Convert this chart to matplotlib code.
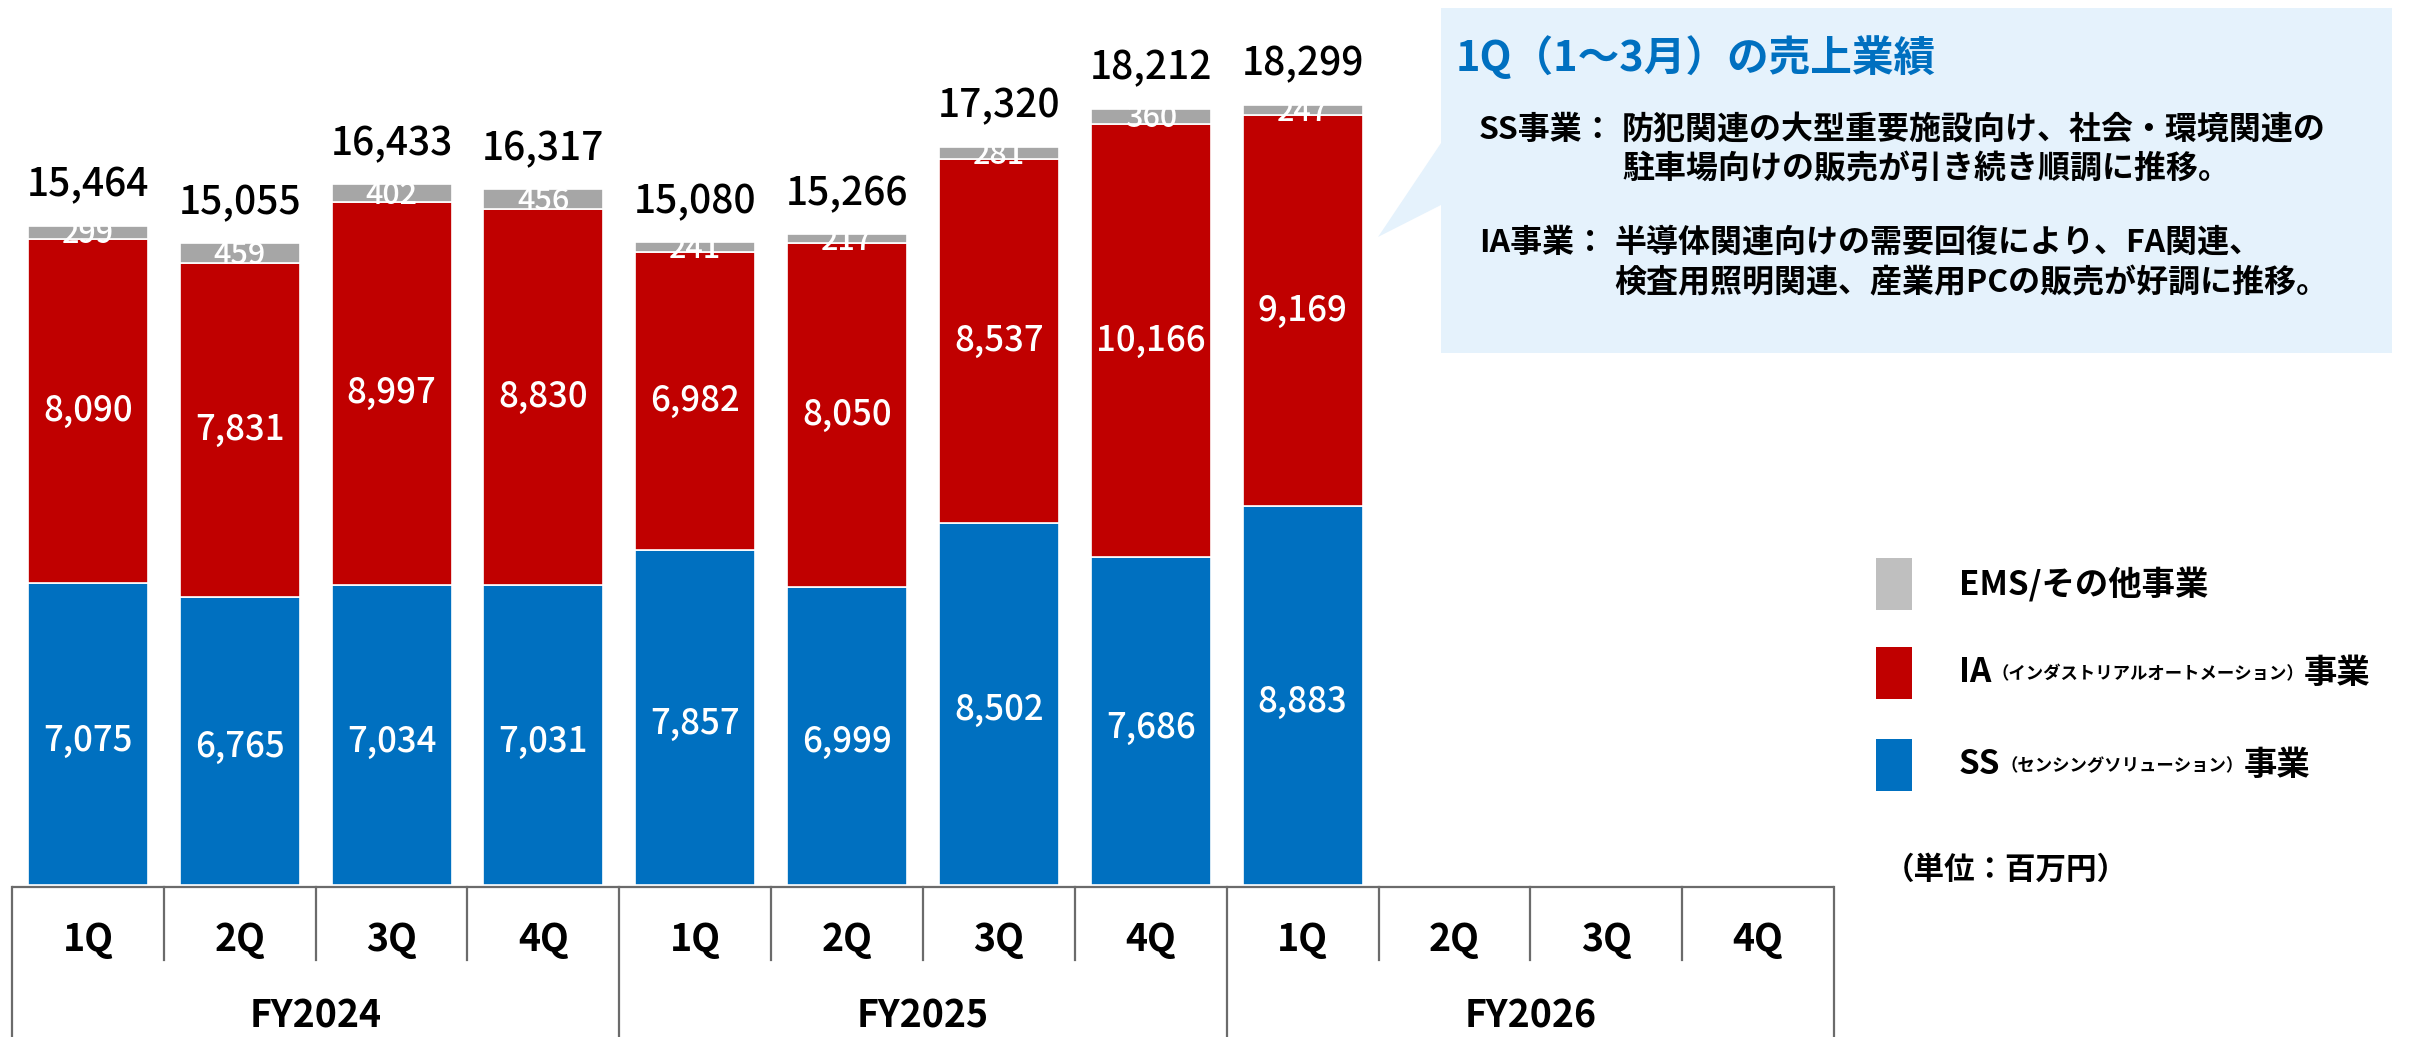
import numpy as np
import matplotlib
matplotlib.use("Agg")
import matplotlib.pyplot as plt
from matplotlib.patches import Polygon, Rectangle

plt.rcParams['font.family'] = ['Noto Sans CJK JP', 'DejaVu Sans']

# ---------------- data ----------------
quarters = ["1Q", "2Q", "3Q", "4Q"]
fiscal_years = ["FY2024", "FY2025", "FY2026"]
ss_values = [7075, 6765, 7034, 7031, 7857, 6999, 8502, 7686, 8883]
ia_values = [8090, 7831, 8997, 8830, 6982, 8050, 8537, 10166, 9169]
ems_values = [299, 459, 402, 456, 241, 217, 281, 360, 247]
totals = [15464, 15055, 16433, 16317, 15080, 15266, 17320, 18212, 18299]

legend_labels = [
    ("EMS/その他事業", "", ""),
    ("IA", "（インダストリアルオートメーション）", "事業"),
    ("SS", "（センシングソリューション）", "事業"),
]
callout_title = "1Q（1～3月）の売上業績"
callout_lines = [
    ("SS事業：", ["防犯関連の大型重要施設向け、社会・環境関連の",
                "駐車場向けの販売が引き続き順調に推移。"]),
    ("IA事業：", ["半導体関連向けの需要回復により、FA関連、",
                "検査用照明関連、産業用PCの販売が好調に推移。"]),
]
unit_text = "（単位：百万円）"

# ---------------- style ----------------
BLUE = "#0070C0"
RED = "#C00000"
GRAY = "#A6A6A6"
LGRAY = "#BFBFBF"
LINE = "#6B6B6B"
CALLOUT = "#E5F2FC"

W, H = 2415, 1037
fig = plt.figure(figsize=(W / 100, H / 100), dpi=100)

left_px, right_px, base_px = 12, 1834, 885
ax = fig.add_axes([left_px / W, (H - base_px) / H, (right_px - left_px) / W, base_px / H])
ax.set_xlim(-0.5, 11.5)
ax.set_ylim(0, 20760)
ax.axis("off")

x = np.arange(len(ss_values))
ss = np.array(ss_values)
ia = np.array(ia_values)
ems = np.array(ems_values)
bw = 0.79
ax.bar(x, ss, width=bw, color=BLUE, edgecolor="white", linewidth=1.2)
ax.bar(x, ia, bottom=ss, width=bw, color=RED, edgecolor="white", linewidth=1.2)
ax.bar(x, ems, bottom=ss + ia, width=bw, color=GRAY, edgecolor="white", linewidth=1.2)

for i in range(len(x)):
    ax.text(x[i], ss[i] / 2 - 150, f"{ss[i]:,}", ha="center", va="center",
            color="white", fontsize=25, fontweight="medium")
    ax.text(x[i], ss[i] + ia[i] / 2, f"{ia[i]:,}", ha="center", va="center",
            color="white", fontsize=25, fontweight="medium")
    ax.text(x[i], ss[i] + ia[i] + ems[i] / 2 - 60, f"{ems[i]:,}", ha="center",
            va="center", color="white", fontsize=22, fontweight="medium")
    ax.annotate(f"{totals[i]:,}", xy=(x[i], totals[i]), xytext=(0, 29),
                textcoords="offset points", ha="center", va="center",
                fontsize=28, fontweight="medium", color="black")

# ---------------- category table ----------------
tax = fig.add_axes([left_px / W, 0, (right_px - left_px) / W, (H - 887) / H])
tax.set_xlim(-0.5, 11.5)
tax.set_ylim(0, 1)
tax.axis("off")
tax.plot([-0.5, 11.5], [1, 1], color=LINE, lw=1.6, clip_on=False, solid_capstyle="butt")
for b in [-0.5, 3.5, 7.5, 11.5]:
    tax.plot([b, b], [0, 1], color=LINE, lw=1.6, clip_on=False)
for b in [0.5, 1.5, 2.5, 4.5, 5.5, 6.5, 8.5, 9.5, 10.5]:
    tax.plot([b, b], [0.513, 1], color=LINE, lw=1.6, clip_on=False)
for i in range(12):
    tax.text(i, 0.65, quarters[i % 4], ha="center", va="center", fontsize=27,
             fontweight="bold")
for j, fy in enumerate(fiscal_years):
    tax.text(4 * j + 1.5, 0.14, fy, ha="center", va="center", fontsize=27,
             fontweight="bold")

# ---------------- overlay: callout, legend, unit ----------------
oax = fig.add_axes([0, 0, 1, 1])
oax.set_xlim(0, W)
oax.set_ylim(H, 0)
oax.axis("off")
oax.patch.set_alpha(0)

poly = Polygon([(1441, 8), (2392, 8), (2392, 353), (1441, 353), (1441, 205),
                (1378, 237), (1441, 143)], closed=True, facecolor=CALLOUT,
               edgecolor="none")
oax.add_patch(poly)
oax.text(1456, 58, callout_title, ha="left", va="center", fontsize=30,
         fontweight="bold", color=BLUE)
ys = [(130, 170), (243, 283)]
body_x = [1622, 1614]
for (lab, lines), (y1, y2), bx in zip(callout_lines, ys, body_x):
    oax.text(1479, y1, lab, ha="left", va="center", fontsize=23, fontweight="bold")
    oax.text(bx, y1, lines[0], ha="left", va="center", fontsize=23, fontweight="bold")
    oax.text(bx, y2, lines[1], ha="left", va="center", fontsize=23, fontweight="bold")

legend_colors = [LGRAY, RED, BLUE]
box_tops = [558, 647, 739]
for (main, small, tail), col, top in zip(legend_labels, legend_colors, box_tops):
    oax.add_patch(Rectangle((1876, top), 36, 52, facecolor=col, edgecolor="none"))
    yc = top + 26
    t = oax.text(1959, yc, main, ha="left", va="center", fontsize=24, fontweight="bold")
    if small:
        t2 = oax.annotate(small, xy=(1, 0.5), xycoords=t, xytext=(0, -1),
                          textcoords="offset points", ha="left", va="center",
                          fontsize=12.5, fontweight="bold")
        oax.annotate(tail, xy=(1, 0.5), xycoords=t2, xytext=(0, 1),
                     textcoords="offset points", ha="left", va="center",
                     fontsize=24, fontweight="bold")

oax.text(1884, 870, unit_text, ha="left", va="center", fontsize=22, fontweight="bold")

fig.savefig("out.png", dpi=100)
